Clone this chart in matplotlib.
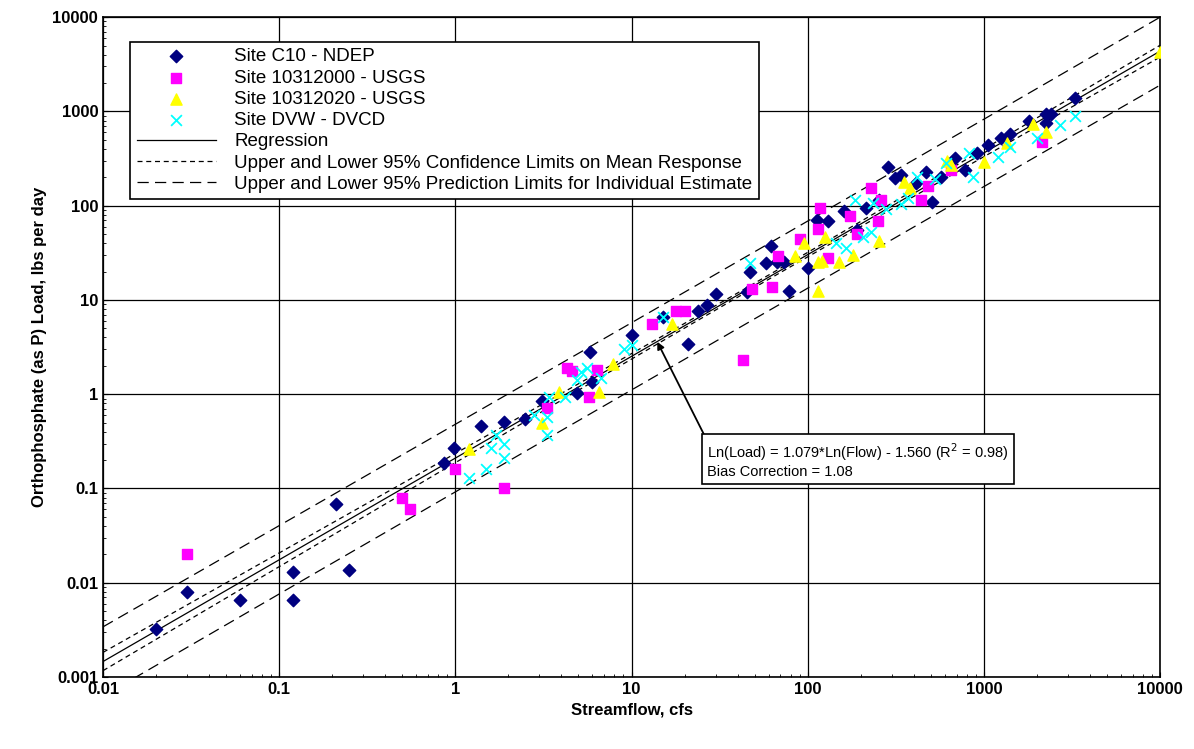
import numpy as np
import matplotlib
matplotlib.use("Agg")
import matplotlib.pyplot as plt
from matplotlib.ticker import FixedLocator, FixedFormatter, NullFormatter, LogLocator

plt.rcParams['font.family'] = ['Liberation Sans', 'DejaVu Sans']

c10_x = [0.02,0.03,0.06,0.12,0.12,0.21,0.25,0.86,0.98,1.4,1.9,2.5,3.1,4.9,5.8,6.0,10,15,21,24,27,30,45,47,58,62,67,73,78,100,113,130,160,190,215,255,285,315,340,410,470,510,575,690,780,920,1060,1250,1400,1800,2250,2400,2250,3300]
c10_y = [0.0032,0.008,0.0065,0.013,0.0065,0.068,0.0135,0.186,0.27,0.46,0.51,0.54,0.84,1.04,2.8,1.35,4.3,6.6,3.4,7.7,8.8,11.5,12,20,24.6,37,25,25,12.5,22,70,68,87,55,95,115,255,195,210,175,225,110,200,320,240,360,435,520,580,790,950,950,750,1400]

usgs1_x = [0.03,0.5,0.55,1.0,1.9,3.3,4.3,4.6,5.7,6.4,13,18,20,43,48,63,68,90,115,117,130,175,190,230,250,260,440,480,650,2150]
usgs1_y = [0.02,0.08,0.06,0.16,0.1,0.72,1.9,1.75,0.93,1.8,5.6,7.7,7.6,2.3,13,13.8,29,44,56,95,28,77,50,155,68,115,115,160,240,470]

usgs2_x = [1.2,3.1,3.9,6.5,7.9,17,85,95,115,115,120,125,150,180,255,350,380,620,650,1000,1350,1900,2250,10000]
usgs2_y = [0.26,0.5,1.05,1.05,2.1,5.5,29,40,12.3,25,26,46,25,30,42,180,155,300,270,290,460,730,600,4300]

dvw_x = [1.2,1.5,1.6,1.7,1.9,1.9,2.8,3.3,3.3,3.4,4.2,4.9,5.2,5.6,6.7,9.1,10,15,47,145,165,185,205,230,235,280,340,370,415,530,610,820,870,1200,1400,2000,2700,3300]
dvw_y = [0.13,0.16,0.27,0.37,0.21,0.3,0.6,0.37,0.57,0.93,0.93,1.4,1.7,1.9,1.5,3.0,3.3,6.6,24.6,40,36,115,46,52,107,93,105,120,200,190,285,360,200,330,420,520,710,900]

b1, b0 = 1.079, -1.560   # natural log regression
ts, n, xm, sxx = 0.355, 250, 1.7, 194.0  # log10 band parameters

fig = plt.figure(figsize=(11.94, 7.49), dpi=100)
ax = fig.add_axes([0.0863, 0.0961, 0.8852, 0.881])
ax.set_xscale('log'); ax.set_yscale('log')
ax.set_xlim(0.01, 10000); ax.set_ylim(0.001, 10000)

lx = np.linspace(-2, 4, 200)
ly = (b0 + b1 * lx * np.log(10)) / np.log(10)
hc = ts * np.sqrt(1/n + (lx - xm)**2 / sxx)
hp = ts * np.sqrt(1 + 1/n + (lx - xm)**2 / sxx)
X = 10**lx
ax.plot(X, 10**ly, color='black', lw=0.9, label='Regression', zorder=2)
ax.plot(X, 10**(ly+hc), color='black', lw=0.9, ls=(0,(4,3)), label='Upper and Lower 95% Confidence Limits on Mean Response', zorder=2)
ax.plot(X, 10**(ly-hc), color='black', lw=0.9, ls=(0,(4,3)), zorder=2)
ax.plot(X, 10**(ly+hp), color='black', lw=0.9, ls=(0,(9,5)), label='Upper and Lower 95% Prediction Limits for Individual Estimate', zorder=2)
ax.plot(X, 10**(ly-hp), color='black', lw=0.9, ls=(0,(9,5)), zorder=2)

ax.scatter(c10_x, c10_y, marker='D', s=40, color='#000080', label='Site C10 - NDEP', zorder=3)
ax.scatter(usgs1_x, usgs1_y, marker='s', s=55, color='#FF00FF', label='Site 10312000 - USGS', zorder=3)
ax.scatter(usgs2_x, usgs2_y, marker='^', s=65, color='#FFFF00', label='Site 10312020 - USGS', zorder=3)
ax.scatter(dvw_x, dvw_y, marker='x', s=60, color='#00FFFF', lw=1.3, label='Site DVW - DVCD', zorder=3)

ax.grid(True, which='major', color='black', lw=0.9)
ax.set_axisbelow(True)
xt = [0.01,0.1,1,10,100,1000,10000]
yt = [0.001,0.01,0.1,1,10,100,1000,10000]
ax.xaxis.set_major_locator(FixedLocator(xt))
ax.xaxis.set_major_formatter(FixedFormatter(['0.01','0.1','1','10','100','1000','10000']))
ax.yaxis.set_major_locator(FixedLocator(yt))
ax.yaxis.set_major_formatter(FixedFormatter(['0.001','0.01','0.1','1','10','100','1000','10000']))
ax.xaxis.set_minor_locator(LogLocator(subs=np.arange(2,10)))
ax.yaxis.set_minor_locator(LogLocator(subs=np.arange(2,10)))
ax.xaxis.set_minor_formatter(NullFormatter()); ax.yaxis.set_minor_formatter(NullFormatter())
ax.tick_params(which='both', direction='in', labelsize=12)
for t in ax.get_xticklabels() + ax.get_yticklabels():
    t.set_fontweight('bold')
for s in ax.spines.values():
    s.set_linewidth(1.2)
ax.set_xlabel('Streamflow, cfs', fontsize=12, fontweight='bold')
ax.set_ylabel('Orthophosphate (as P) Load, lbs per day', fontsize=12, fontweight='bold')

hl = ax.get_legend_handles_labels()
order = ['Site C10 - NDEP','Site 10312000 - USGS','Site 10312020 - USGS','Site DVW - DVCD','Regression',
         'Upper and Lower 95% Confidence Limits on Mean Response','Upper and Lower 95% Prediction Limits for Individual Estimate']
d = dict(zip(hl[1], hl[0]))
leg = ax.legend([d[k] for k in order], order, loc='upper left', bbox_to_anchor=(0.017, 0.977),
                fontsize=13.5, frameon=True, fancybox=False, edgecolor='black', framealpha=1,
                handlelength=4.2, borderpad=0.35, labelspacing=0.22, handletextpad=1.0)
leg.get_frame().set_linewidth(1.2)

ax.annotate('Ln(Load) = 1.079*Ln(Flow) - 1.560 (R$^2$ = 0.98)\nBias Correction = 1.08',
            xy=(14, 3.6), xytext=(27, 0.125), fontsize=10.5, ha='left', va='bottom',
            bbox=dict(boxstyle='square,pad=0.35', fc='white', ec='black', lw=1.2),
            arrowprops=dict(arrowstyle='-|>', color='black', lw=1.3, shrinkA=0, shrinkB=0,
                            relpos=(0, 1)), zorder=5)

fig.savefig('out.png', dpi=100)
